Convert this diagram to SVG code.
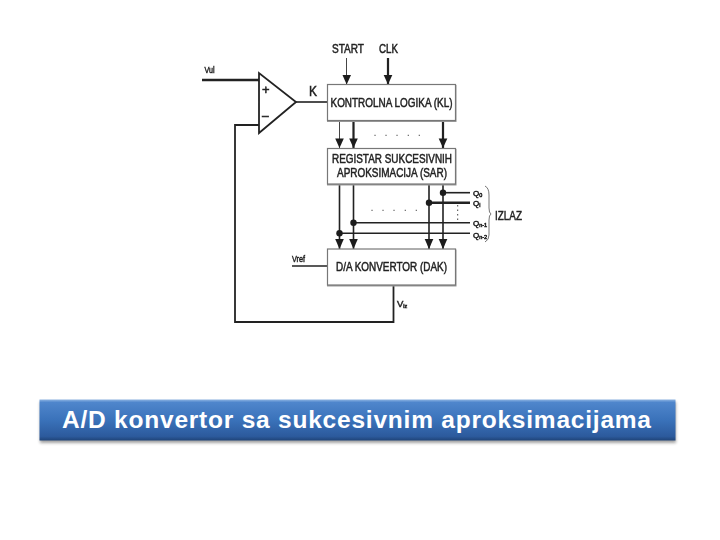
<svg xmlns="http://www.w3.org/2000/svg" width="720" height="540" viewBox="0 0 720 540">
<defs>
<linearGradient id="bar" x1="0" y1="0" x2="0" y2="1"><stop offset="0" stop-color="#8db4e2"/><stop offset="0.07" stop-color="#4f86cc"/><stop offset="0.5" stop-color="#3a72ba"/><stop offset="0.9" stop-color="#2c5a9c"/><stop offset="1" stop-color="#1f4478"/></linearGradient>
<filter id="sh" x="-3%" y="-20%" width="106%" height="150%"><feGaussianBlur stdDeviation="1.5"/></filter>
<filter id="soft" x="-5%" y="-5%" width="110%" height="110%"><feGaussianBlur stdDeviation="0.35"/></filter>
</defs>
<style>
.t{font-family:"Liberation Sans",Arial,sans-serif;fill:#222;stroke:#222;stroke-width:.5}
.n{font-size:13px;text-anchor:middle}
.l{font-size:9.500px}
.q{font-size:8px}
.b{fill:#fff;stroke:#777;stroke-width:1.2}
.s{fill:#999}
.c{fill:none;stroke:#222;stroke-width:1.6}
.m{fill:none;stroke:#222;stroke-width:2.2}
.g{fill:none;stroke:#444;stroke-width:1}
.d{fill:#1c1c1c}
.dots{font-family:"Liberation Sans",Arial,sans-serif;fill:#555;font-size:11px;letter-spacing:8px}
</style>
<rect width="720" height="540" fill="#fff"/>
<g filter="url(#soft)">
<g id="connectors">
<path class="g" d="M346.500 58V84"/>
<path class="m" d="M388 58V84"/>
<path class="m" d="M202 80H259" style="stroke-width:2.600"/>
<path class="c" d="M296 102H328"/>
<path class="c" d="M259 125H235V322H393.500V286" style="stroke-width:1.800"/>
<path class="c" d="M292 266H328"/>
<path class="g" d="M339.500 122V148"/>
<path class="m" d="M353.500 122V148"/>
<path class="m" d="M443 122V148"/>
<path class="c" d="M339.500 185V249"/>
<path class="c" d="M353.500 185V249"/>
<path class="c" d="M429 185V249"/>
<path class="c" d="M443 185V249"/>
<path class="c" d="M443 192.700H470"/>
<path class="m" d="M429 202.700H470" style="stroke-width:2.600"/>
<path class="c" d="M353.500 222.700H470"/>
<path class="c" d="M339.500 233.300H470"/>
<path d="M485 186Q489 188 489 195V208Q489 213 491 214Q489 215 489 220V235Q489 240 485 242" fill="none" stroke="#666" stroke-width=".9"/>
<g class="d">
<path d="M342.500 75H351L346.700 84.500Z"/>
<path d="M383.700 75H392.300L388 84.500Z"/>
<path d="M335.200 138.500H343.800L339.500 148Z"/>
<path d="M349.200 138.500H357.800L353.500 148Z"/>
<path d="M438.700 138.500H447.300L443 148Z"/>
<path d="M335.200 239H343.800L339.500 249Z"/>
<path d="M349.200 239H357.800L353.500 249Z"/>
<path d="M424.700 239H433.300L429 249Z"/>
<path d="M438.700 239H447.300L443 249Z"/>
<circle cx="443" cy="192.700" r="3.200"/>
<circle cx="429" cy="202.700" r="3.200"/>
<circle cx="353.500" cy="222.700" r="3.200"/>
<circle cx="339.500" cy="233.300" r="3.200"/>
</g>
</g>
<g id="comparator">
<path d="M259 73V133L296 102Z" fill="#fff" stroke="#222" stroke-width="1.800"/>
<text class="t" x="262" y="94" font-size="13">+</text>
<text class="t" x="262" y="120" font-size="12">–</text>
</g>
<g id="vul"><text class="t l" x="204.500" y="73" textLength="10" lengthAdjust="spacingAndGlyphs">Vul</text></g>
<g id="k"><text class="t" x="309" y="96" font-size="14" textLength="8" lengthAdjust="spacingAndGlyphs">K</text></g>
<g id="start"><text class="t" x="332" y="53" font-size="13" textLength="32" lengthAdjust="spacingAndGlyphs">START</text></g>
<g id="clk"><text class="t" x="379" y="53" font-size="13" textLength="19" lengthAdjust="spacingAndGlyphs">CLK</text></g>
<g id="kl">
<rect class="s" x="327" y="85" width="129.500" height="37"/>
<rect class="b" x="327.500" y="84.500" width="128" height="36"/>
<text class="t n" x="391.500" y="107" textLength="122" lengthAdjust="spacingAndGlyphs">KONTROLNA LOGIKA (KL)</text>
</g>
<text class="dots" x="373.500" y="136">.....</text>
<g id="sar">
<rect class="s" x="327" y="149" width="129.500" height="36.500"/>
<rect class="b" x="327.500" y="148.500" width="128" height="35.500"/>
<text class="t n" x="392" y="163" textLength="120" lengthAdjust="spacingAndGlyphs">REGISTAR SUKCESIVNIH</text>
<text class="t n" x="392" y="177" textLength="110" lengthAdjust="spacingAndGlyphs">APROKSIMACIJA (SAR)</text>
</g>
<text class="dots" x="370.500" y="211">.....</text>
<g id="izlaz">
<text class="t q" x="473" y="196">Q<tspan font-size="5.500" dy="1">0</tspan></text>
<text class="t q" x="473" y="205.500">Q<tspan font-size="5.500" dy="1">i</tspan></text>
<text class="t q" x="473" y="226">Q<tspan font-size="5.500" dy="1">n-1</tspan></text>
<text class="t q" x="473" y="238">Q<tspan font-size="5.500" dy="1">n-2</tspan></text>
<path d="M457.700 205V221" stroke="#444" stroke-width="1" stroke-dasharray="1.500 3"/>
<text class="t" x="495" y="220" font-size="13" textLength="27" lengthAdjust="spacingAndGlyphs">IZLAZ</text>
</g>
<g id="dak">
<rect class="s" x="327" y="249.500" width="129.500" height="37"/>
<rect class="b" x="327.500" y="249" width="128" height="36"/>
<text class="t n" x="391.500" y="271" textLength="111" lengthAdjust="spacingAndGlyphs">D/A KONVERTOR (DAK)</text>
</g>
<g id="vref"><text class="t l" x="292" y="262" textLength="13" lengthAdjust="spacingAndGlyphs">Vref</text></g>
<g id="viz"><text class="t l" x="397" y="307">V<tspan font-size="5.500" dy="1">iz</tspan></text></g>
</g>
<g id="title">
<rect x="40" y="402" width="636" height="41" fill="#666" opacity=".6" filter="url(#sh)"/>
<rect x="39.500" y="399.500" width="636" height="41" fill="url(#bar)"/>
<text x="62" y="428" font-family="'Liberation Sans',Arial,sans-serif" font-size="24.500" fill="#fff" font-weight="bold" textLength="589">A/D konvertor sa sukcesivnim aproksimacijama</text>
</g>
</svg>
